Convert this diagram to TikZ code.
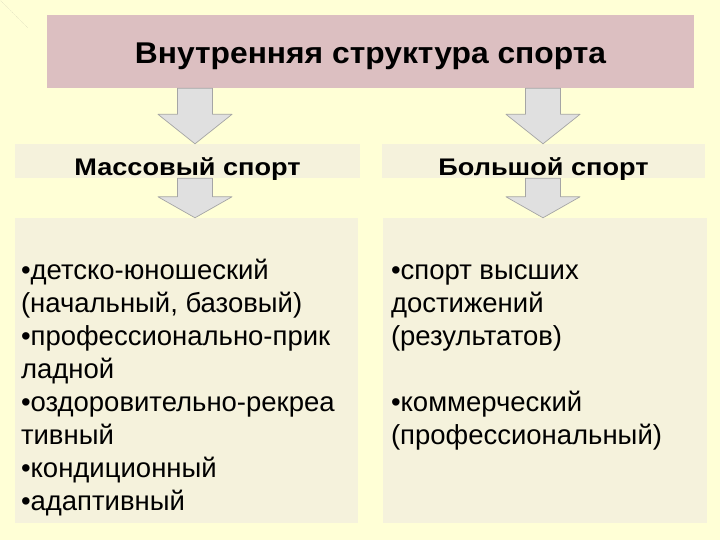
\documentclass[tikz,border=0pt]{standalone}
\usepackage{fontspec}
\setmainfont{Liberation Sans}
\newfontfamily\titlefont{Liberation Sans}[FakeStretch=1.06]
\newfontfamily\headfont{Liberation Sans}[FakeStretch=1.13]
\newfontfamily\listfont{Liberation Sans}
\usetikzlibrary{calc,positioning}
\definecolor{bgyellow}{RGB}{255,255,214}
\definecolor{titlepink}{RGB}{220,191,193}
\definecolor{boxbeige}{RGB}{245,242,220}
\definecolor{arrowgray}{RGB}{224,224,224}
\definecolor{arrowline}{RGB}{165,165,165}
% block arrow from one node down to the next, #3 = x of its axis
\newcommand\blockarrow[3]{%
	\draw[bigarrow] let \p1=(#1.south), \p2=(#2.north) in
	(#3-17.5,\y1) -- (#3+17.5,\y1) -- ({#3+17.5},{\y1+0.47*(\y2-\y1)}) -- ({#3+37},{\y1+0.47*(\y2-\y1)})
	-- (#3,\y2) -- ({#3-37},{\y1+0.47*(\y2-\y1)}) -- ({#3-17.5},{\y1+0.47*(\y2-\y1)}) -- cycle;}
\begin{document}
\begin{tikzpicture}[x=1pt,y=-1pt, line join=round,
	box/.style={fill=boxbeige, draw=none, inner sep=0pt},
	bigarrow/.style={fill=arrowgray, draw=arrowline, line width=0.7pt},
	headtext/.style={font=\headfont\bfseries\fontsize{24}{28}\selectfont, text height=30pt, text depth=0pt},
	listtext/.style={font=\listfont\fontsize{27.5}{33}\selectfont, align=left, inner sep=0pt, anchor=north west}]
	\fill[bgyellow] (0,0) rectangle (720,540);
	\useasboundingbox (0,0) rectangle (720,540);
	\draw[gray, very thin, densely dotted] (0,0) -- (28,28);
	% boxes
	\node[box, fill=titlepink, minimum width=647, minimum height=73, text height=25pt, text depth=0pt,
	font=\titlefont\bfseries\fontsize{30}{34}\selectfont] (title) at (370.5,51.5) {Внутренняя структура спорта};
	\node[box, headtext, minimum width=345, minimum height=34] (mass) at (187.5,161) {Массовый спорт};
	\node[box, headtext, minimum width=323, minimum height=34] (elite) at (543.5,161) {Большой спорт};
	\node[box, minimum width=343, minimum height=305] (massbody) at (186.5,370.5) {};
	\node[box, minimum width=324, minimum height=305] (elitebody) at (545,370.5) {};
	% lists
	\node[listtext] (massitems) at ([shift={(6,38)}]massbody.north west)
	{\strut•детско-юношеский\\(начальный, базовый)\\•профессионально-прик\\ладной\\•оздоровительно-рекреа\\тивный\\•кондиционный\\•адаптивный};
	\node[listtext] (eliteitems) at ([shift={(8,38)}]elitebody.north west)
	{\strut•спорт высших\\достижений\\(результатов)\\[33pt]•коммерческий\\(профессиональный)};
	% arrows
	\blockarrow{title}{mass}{195}
	\blockarrow{title}{elite}{543}
	\blockarrow{mass}{massbody}{195}
	\blockarrow{elite}{elitebody}{543}
\end{tikzpicture}
\end{document}
